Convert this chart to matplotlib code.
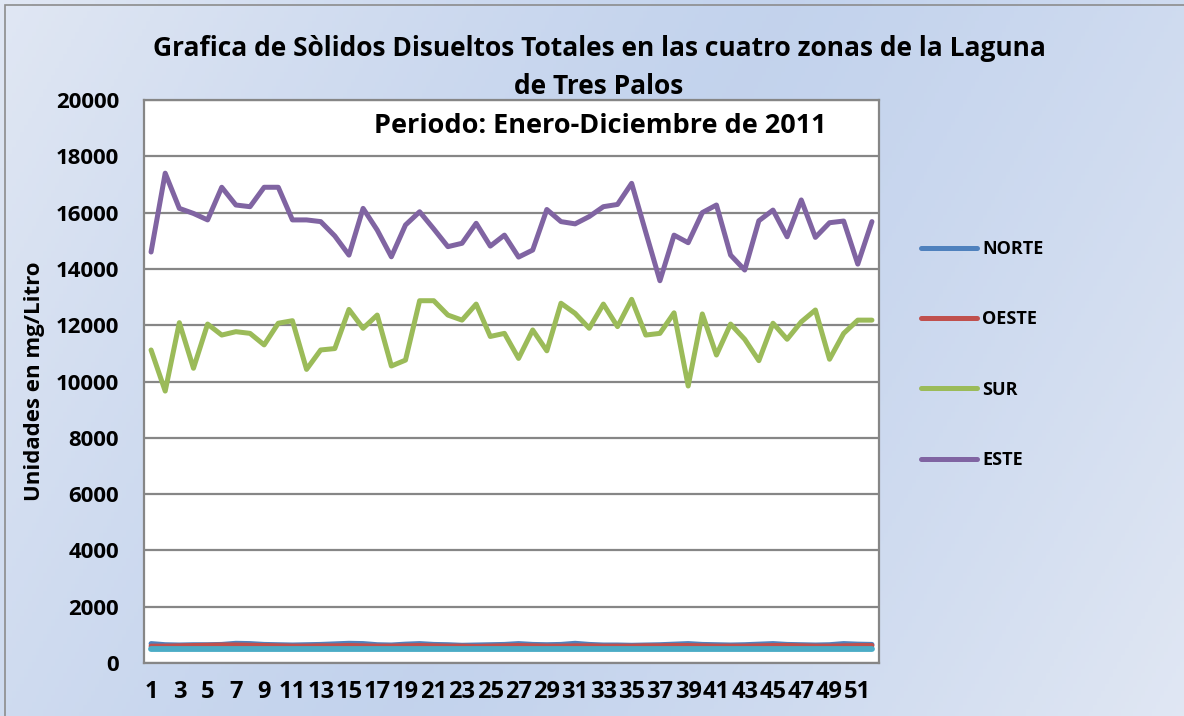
import numpy as np
import matplotlib
matplotlib.use("Agg")
import matplotlib.pyplot as plt
from matplotlib.lines import Line2D
from matplotlib.patches import Rectangle

plt.rcParams['font.family'] = ['Open Sans', 'DejaVu Sans']
plt.rcParams['font.weight'] = 'bold'

# === DATA ===
muestras = list(range(1, 53))
norte = [690, 650, 640, 650, 650, 660, 700, 690, 660, 650, 640, 650, 660, 680, 700, 690,
         650, 640, 670, 690, 660, 650, 630, 640, 650, 660, 690, 660, 650, 660, 700, 660,
         640, 640, 630, 640, 650, 670, 690, 660, 650, 640, 650, 670, 690, 660, 650, 640,
         650, 690, 670, 660]
oeste = [600, 600, 610, 620, 630, 640, 640, 630, 620, 610, 600, 600, 610, 610, 620, 610,
         600, 600, 610, 620, 610, 600, 600, 590, 600, 610, 620, 610, 600, 600, 610, 610,
         600, 600, 600, 610, 610, 620, 620, 610, 600, 600, 600, 610, 620, 620, 610, 600,
         600, 610, 620, 620]
sur = [11120, 9660, 12090, 10470, 12040, 11650, 11770, 11710, 11300, 12070,
       12160, 10430, 11120, 11170, 12560, 11890, 12360, 10550, 10760, 12870,
       12870, 12360, 12180, 12750, 11600, 11710, 10820, 11830, 11090, 12780,
       12420, 11890, 12750, 11950, 12920, 11650, 11710, 12440, 9840, 12400,
       10940, 12040, 11500, 10740, 12070, 11500, 12120, 12540, 10790, 11710,
       12180, 12180]
este = [14600, 17400, 16150, 15970, 15740, 16900, 16270, 16210, 16900, 16900,
        15740, 15740, 15680, 15170, 14490, 16150, 15380, 14430, 15560, 16030,
        15420, 14790, 14910, 15620, 14810, 15200, 14420, 14670, 16110, 15680,
        15600, 15860, 16210, 16290, 17040, 15300, 13580, 15200, 14930, 16000,
        16270, 14490, 13960, 15710, 16090, 15140, 16450, 15120, 15640, 15700,
        14170, 15680]
quinta = [490, 490, 490, 490, 490, 490, 490, 490, 490, 490, 490, 490, 490, 490, 490, 490,
          490, 490, 490, 490, 490, 490, 490, 490, 490, 490, 490, 490, 490, 490, 490, 490,
          490, 490, 490, 490, 490, 490, 490, 490, 490, 490, 490, 490, 490, 490, 490, 490,
          490, 490, 490, 490]

series = [("NORTE", norte, '#4f81bd'),
          ("OESTE", oeste, '#c0504d'),
          ("SUR", sur, '#9bbb59'),
          ("ESTE", este, '#8064a2')]

W, H = 1184, 716
fig = plt.figure(figsize=(W / 100, H / 100), dpi=100)

# background gradient
bg = fig.add_axes([0, 0, 1, 1], zorder=-5)
xx, yy = np.meshgrid(np.linspace(0, 1, 300), np.linspace(0, 1, 200))
u = np.clip(0.75 * xx + 0.25 * yy, 0, 1)
t = 1 - np.abs(2 * u - 1) ** 1.3
light = np.array([0.880, 0.906, 0.955])
dark = np.array([0.765, 0.827, 0.929])
img = light[None, None, :] + (dark - light)[None, None, :] * t[..., None]
bg.imshow(img, extent=[0, 1, 0, 1], aspect='auto', origin='upper')
bg.add_patch(Rectangle((5 / W, -0.1), 1.2, 1 - 5 / H + 0.1, fill=False,
                       edgecolor='#8c8c8c', lw=1.2, transform=bg.transAxes))
bg.set_xlim(0, 1)
bg.set_ylim(0, 1)
bg.axis('off')

ax = fig.add_axes([144 / W, 1 - 663 / H, (879 - 144) / W, (663 - 100) / H])
ax.set_facecolor('white')

for nombre, vals, color in series:
    ax.plot(muestras, vals, color=color, lw=3.6, solid_capstyle='round', label=nombre)
ax.plot(muestras, quinta, color='#4bacc6', lw=4.2, solid_capstyle='round')

ax.set_xlim(0.5, 52.5)
ax.set_ylim(0, 20000)
ax.set_yticks(np.arange(0, 20001, 2000))
ax.set_xticks(muestras[::2])
ax.tick_params(axis='y', length=0, labelsize=16, pad=18)
ax.tick_params(axis='x', length=0, labelsize=17, pad=12)
for lab in ax.get_xticklabels() + ax.get_yticklabels():
    lab.set_fontweight('bold')
ax.grid(axis='y', color='#868686', lw=1.6)
ax.set_axisbelow(True)
for s in ax.spines.values():
    s.set_color('#868686')
    s.set_linewidth(1.6)

ax.set_ylabel("Unidades en mg/Litro", fontsize=16, fontweight='bold', labelpad=8)

fig.text(599 / W, 1 - 48 / H,
         "Grafica de Sòlidos Disueltos Totales en las cuatro zonas de la Laguna",
         ha='center', va='center', fontsize=19, fontweight='bold')
fig.text(599 / W, 1 - 86 / H, "de Tres Palos",
         ha='center', va='center', fontsize=19, fontweight='bold')
fig.text(600 / W, 1 - 126 / H, "Periodo: Enero-Diciembre de 2011",
         ha='center', va='center', fontsize=19.5, fontweight='bold')

handles = [Line2D([], [], color=c, lw=3.6, solid_capstyle='round') for _, _, c in series]
fig.legend(handles, [n for n, _, _ in series], loc='upper left',
           bbox_to_anchor=(912 / W, 1 - 231 / H), frameon=False,
           prop={'size': 13, 'weight': 'bold'}, handlelength=3.1,
           handletextpad=0.3, labelspacing=2.9, borderpad=0)

fig.savefig("out.png", dpi=100)
